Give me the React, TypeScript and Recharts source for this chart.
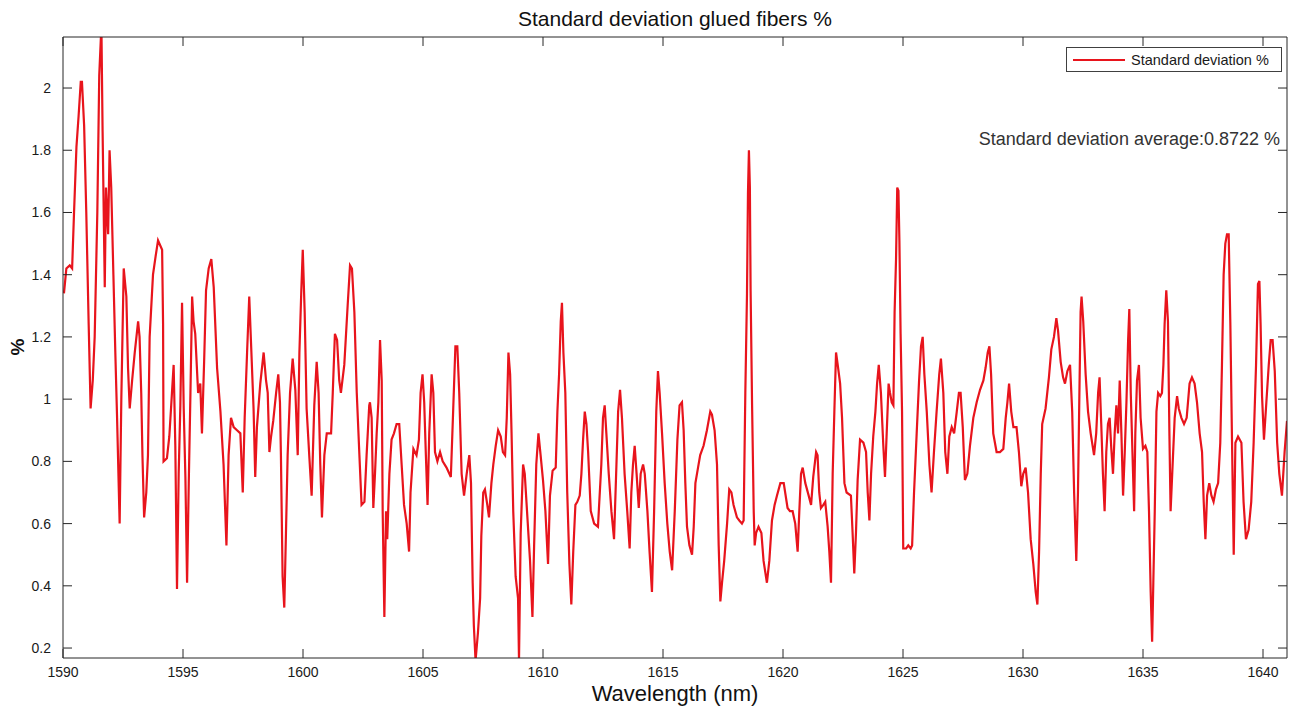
import React from 'react'
import { LineChart, Line, XAxis, YAxis, Legend } from 'recharts'

// wavelength (nm) and standard deviation (%)
const wavelength = [
  1590.04, 1590.14, 1590.28, 1590.38, 1590.46, 1590.56, 1590.65, 1590.74, 1590.79, 1590.88,
  1590.97, 1591.07, 1591.15, 1591.24, 1591.32, 1591.43, 1591.51, 1591.6, 1591.65, 1591.74,
  1591.79, 1591.88, 1591.94, 1592.01, 1592.1, 1592.18, 1592.25, 1592.36, 1592.43, 1592.53,
  1592.64, 1592.71, 1592.78, 1592.88, 1592.99, 1593.13, 1593.19, 1593.26, 1593.31, 1593.38,
  1593.47, 1593.54, 1593.61, 1593.75, 1593.86, 1593.96,
  1594.13, 1594.17, 1594.19, 1594.33, 1594.43, 1594.54, 1594.61, 1594.68, 1594.75, 1594.82,
  1594.89, 1594.96, 1595.03, 1595.1, 1595.17, 1595.24, 1595.31, 1595.38, 1595.44, 1595.51,
  1595.63, 1595.72, 1595.79, 1595.88, 1595.96, 1596.07, 1596.18, 1596.28, 1596.42, 1596.56,
  1596.69, 1596.81, 1596.9, 1597.0, 1597.11, 1597.25, 1597.39, 1597.49, 1597.57, 1597.67,
  1597.76, 1597.85, 1597.94, 1598.01, 1598.08, 1598.22, 1598.36, 1598.46,
  1598.53, 1598.6, 1598.67, 1598.76, 1598.88, 1598.97, 1599.04, 1599.08, 1599.15, 1599.22,
  1599.29, 1599.36, 1599.46, 1599.57, 1599.68, 1599.78, 1599.85, 1599.93, 1599.99, 1600.07,
  1600.15, 1600.26, 1600.36, 1600.47, 1600.57, 1600.65, 1600.72, 1600.79, 1600.89, 1600.99,
  1601.17, 1601.24, 1601.33, 1601.42, 1601.51, 1601.58, 1601.72, 1601.86, 1601.96, 1602.04,
  1602.14, 1602.24, 1602.35, 1602.44, 1602.56, 1602.65, 1602.76,
  1602.79, 1602.86, 1602.93, 1603.0, 1603.07, 1603.14, 1603.21, 1603.28, 1603.32, 1603.39,
  1603.46, 1603.51, 1603.6, 1603.69, 1603.79, 1603.9, 1604.01, 1604.11, 1604.21, 1604.32,
  1604.42, 1604.48, 1604.6, 1604.73, 1604.83, 1604.9, 1604.98, 1605.05, 1605.12, 1605.19,
  1605.26, 1605.36, 1605.43, 1605.5, 1605.6, 1605.71, 1605.82, 1605.98, 1606.16, 1606.26,
  1606.35, 1606.43, 1606.51, 1606.61, 1606.71, 1606.82, 1606.93, 1607.0, 1607.07, 1607.12,
  1607.19, 1607.29, 1607.38, 1607.43, 1607.51, 1607.58, 1607.68, 1607.75, 1607.85, 1607.93,
  1608.03, 1608.13, 1608.24, 1608.33, 1608.42, 1608.49, 1608.56, 1608.63, 1608.69, 1608.76,
  1608.86, 1608.96, 1609.0, 1609.07, 1609.17, 1609.24, 1609.35, 1609.46, 1609.56, 1609.63,
  1609.72, 1609.81, 1609.9, 1610.0, 1610.1, 1610.21, 1610.29, 1610.4, 1610.53, 1610.6,
  1610.67, 1610.74, 1610.79, 1610.85, 1610.93, 1611.01, 1611.1, 1611.18, 1611.26, 1611.35,
  1611.43,
  1611.53, 1611.6, 1611.67, 1611.74, 1611.81, 1611.88, 1611.99, 1612.13, 1612.29, 1612.43,
  1612.5, 1612.57, 1612.64, 1612.74, 1612.85, 1612.96, 1613.06, 1613.13, 1613.21, 1613.29,
  1613.4, 1613.51, 1613.61, 1613.68, 1613.75, 1613.82, 1613.9, 1613.99, 1614.07, 1614.17,
  1614.24, 1614.35, 1614.44, 1614.54, 1614.63, 1614.72, 1614.79, 1614.86, 1614.96, 1615.07,
  1615.18, 1615.28, 1615.38, 1615.49, 1615.6, 1615.69, 1615.79,
  1615.86, 1615.93, 1616.0, 1616.1, 1616.21, 1616.28, 1616.35, 1616.46, 1616.55, 1616.69,
  1616.83, 1616.97, 1617.04, 1617.15, 1617.25, 1617.32, 1617.39, 1617.46, 1617.55, 1617.67,
  1617.76, 1617.85, 1617.94, 1618.08, 1618.18, 1618.29, 1618.36, 1618.43, 1618.5, 1618.54,
  1618.58, 1618.62, 1618.65, 1618.71, 1618.78, 1618.82, 1618.88, 1618.98, 1619.1, 1619.19,
  1619.33, 1619.43, 1619.54, 1619.65, 1619.75, 1619.89, 1620.03,
  1620.19, 1620.29, 1620.4, 1620.51, 1620.61, 1620.68, 1620.75, 1620.82, 1620.93, 1621.07,
  1621.17, 1621.26, 1621.38, 1621.44, 1621.51, 1621.58, 1621.68, 1621.76, 1621.86, 1621.93,
  1622.0, 1622.07, 1622.14, 1622.21, 1622.28, 1622.38, 1622.46, 1622.56, 1622.65, 1622.83,
  1622.9, 1622.97, 1623.04, 1623.11, 1623.21, 1623.35, 1623.46, 1623.53, 1623.6, 1623.67,
  1623.76, 1623.85, 1623.92, 1623.99, 1624.08, 1624.18, 1624.25, 1624.32, 1624.4, 1624.46,
  1624.53, 1624.6, 1624.65, 1624.71, 1624.76, 1624.81, 1624.85, 1624.9, 1624.96, 1625.01,
  1625.13, 1625.22, 1625.32, 1625.38, 1625.46, 1625.57, 1625.67, 1625.75, 1625.82, 1625.89,
  1625.99, 1626.1, 1626.19, 1626.29, 1626.4, 1626.51, 1626.58, 1626.68, 1626.76, 1626.85,
  1626.93, 1627.03, 1627.13, 1627.24, 1627.33, 1627.4, 1627.49, 1627.58, 1627.68, 1627.79,
  1627.93, 1628.07, 1628.21, 1628.35, 1628.44, 1628.53, 1628.6, 1628.67, 1628.76,
  1628.9, 1629.04, 1629.18, 1629.28, 1629.35, 1629.42, 1629.51, 1629.6, 1629.73, 1629.83,
  1629.93, 1630.01, 1630.11, 1630.21, 1630.32, 1630.43, 1630.53, 1630.6, 1630.67, 1630.74,
  1630.8, 1630.94, 1631.08, 1631.18, 1631.29, 1631.39, 1631.46, 1631.57, 1631.67, 1631.75,
  1631.85, 1631.96, 1632.05, 1632.13, 1632.22, 1632.29, 1632.35, 1632.4, 1632.44, 1632.51,
  1632.61, 1632.71, 1632.82, 1632.96, 1633.05, 1633.13,
  1633.19, 1633.26, 1633.33, 1633.4, 1633.47, 1633.54, 1633.61, 1633.68, 1633.75, 1633.82,
  1633.89, 1633.96, 1634.03, 1634.1, 1634.17, 1634.24, 1634.31, 1634.38, 1634.43, 1634.49,
  1634.56, 1634.63, 1634.68, 1634.75, 1634.83, 1634.9, 1635.0, 1635.1, 1635.18, 1635.25,
  1635.32, 1635.38, 1635.43, 1635.49, 1635.56, 1635.63, 1635.72, 1635.79, 1635.85, 1635.9,
  1635.97, 1636.04, 1636.1, 1636.15, 1636.24, 1636.32, 1636.42, 1636.49, 1636.6, 1636.71,
  1636.82, 1636.94, 1637.04, 1637.15, 1637.25, 1637.36, 1637.46,
  1637.53, 1637.6, 1637.67, 1637.76, 1637.85, 1637.94, 1638.04, 1638.13, 1638.22, 1638.29,
  1638.36, 1638.43, 1638.5, 1638.57, 1638.64, 1638.71, 1638.78, 1638.85, 1638.96, 1639.1,
  1639.19, 1639.29, 1639.4, 1639.51, 1639.61, 1639.71, 1639.79, 1639.85, 1639.9, 1639.96,
  1640.04, 1640.14, 1640.24, 1640.32, 1640.4, 1640.49, 1640.59, 1640.68, 1640.79, 1640.9,
  1641.0,
]

const stdDev = [
  1.34, 1.42, 1.43, 1.42, 1.6, 1.81, 1.91, 2.02, 2.02, 1.88,
  1.6, 1.24, 0.97, 1.06, 1.2, 1.6, 2.04, 2.2, 1.86, 1.36,
  1.68, 1.53, 1.8, 1.68, 1.4, 1.15, 0.95, 0.6, 1.0, 1.42,
  1.33, 1.1, 0.97, 1.06, 1.15, 1.25, 1.2, 1.02, 0.82, 0.62,
  0.7, 0.82, 1.2, 1.4, 1.46, 1.51,
  1.48, 1.24, 0.8, 0.81, 0.88, 1.02, 1.11, 0.85, 0.39, 0.76,
  0.98, 1.31, 0.97, 0.75, 0.41, 0.73, 1.02, 1.33, 1.25, 1.21,
  1.02, 1.05, 0.89, 1.12, 1.35, 1.42, 1.45, 1.36, 1.1, 0.96,
  0.79, 0.53, 0.82, 0.94, 0.91, 0.9, 0.89, 0.7, 0.94, 1.15,
  1.33, 1.15, 0.97, 0.75, 0.91, 1.05, 1.15, 1.06,
  1.02, 0.83, 0.88, 0.93, 1.02, 1.08, 0.99, 0.82, 0.43, 0.33,
  0.57, 0.82, 1.02, 1.13, 1.03, 0.82, 1.15, 1.35, 1.48, 1.28,
  0.97, 0.82, 0.69, 0.98, 1.12, 1.02, 0.79, 0.62, 0.82, 0.89,
  0.89, 1.02, 1.21, 1.19, 1.06, 1.02, 1.11, 1.3, 1.43, 1.42,
  1.28, 1.02, 0.82, 0.66, 0.67, 0.82, 0.98,
  0.99, 0.94, 0.65, 0.76, 0.89, 0.99, 1.19, 1.06, 0.64, 0.3,
  0.64, 0.55, 0.76, 0.87, 0.89, 0.92, 0.92, 0.79, 0.66, 0.6,
  0.51, 0.7, 0.84, 0.82, 0.87, 1.02, 1.08, 0.99, 0.82, 0.66,
  0.89, 1.08, 1.02, 0.83, 0.8, 0.83, 0.8, 0.78, 0.75, 0.97,
  1.17, 1.17, 1.02, 0.76, 0.69, 0.76, 0.82, 0.73, 0.41, 0.27,
  0.16, 0.25, 0.36, 0.56, 0.7, 0.71, 0.66, 0.62, 0.73, 0.79,
  0.85, 0.9, 0.88, 0.83, 0.82, 0.94, 1.15, 1.08, 0.89, 0.64,
  0.43, 0.36, 0.16, 0.57, 0.79, 0.76, 0.62, 0.48, 0.3, 0.53,
  0.79, 0.89, 0.82, 0.74, 0.64, 0.47, 0.69, 0.77, 0.78, 0.96,
  1.08, 1.25, 1.31, 1.15, 1.02, 0.7, 0.47, 0.34, 0.51, 0.66,
  0.67,
  0.69, 0.76, 0.87, 0.96, 0.92, 0.83, 0.64, 0.6, 0.59, 0.79,
  0.94, 0.98, 0.89, 0.76, 0.64, 0.55, 0.79, 0.96, 1.03, 0.94,
  0.76, 0.64, 0.52, 0.7, 0.79, 0.85, 0.76, 0.65, 0.76, 0.79,
  0.76, 0.64, 0.51, 0.38, 0.64, 0.96, 1.09, 1.02, 0.89, 0.73,
  0.6, 0.51, 0.45, 0.64, 0.87, 0.98, 0.99,
  0.9, 0.73, 0.59, 0.53, 0.5, 0.59, 0.73, 0.78, 0.82, 0.85,
  0.9, 0.96, 0.95, 0.9, 0.79, 0.53, 0.35, 0.41, 0.48, 0.6,
  0.71, 0.7, 0.66, 0.62, 0.61, 0.6, 0.61, 1.02, 1.34, 1.66,
  1.8, 1.68, 1.35, 0.99, 0.64, 0.53, 0.57, 0.59, 0.57, 0.48,
  0.41, 0.48, 0.61, 0.66, 0.69, 0.73, 0.73,
  0.65, 0.64, 0.64, 0.6, 0.51, 0.64, 0.76, 0.78, 0.73, 0.69,
  0.66, 0.75, 0.83, 0.82, 0.7, 0.65, 0.66, 0.67, 0.59, 0.51,
  0.41, 0.76, 0.96, 1.15, 1.11, 1.05, 0.94, 0.73, 0.7, 0.69,
  0.57, 0.44, 0.57, 0.74, 0.87, 0.86, 0.83, 0.7, 0.61, 0.76,
  0.88, 0.96, 1.05, 1.11, 1.02, 0.85, 0.75, 0.89, 1.05, 1.02,
  0.99, 0.98, 1.28, 1.45, 1.68, 1.67, 1.51, 1.21, 0.96, 0.52,
  0.52, 0.53, 0.52, 0.53, 0.7, 0.89, 1.06, 1.17, 1.2, 1.08,
  0.96, 0.79, 0.7, 0.83, 0.96, 1.08, 1.13, 1.02, 0.83, 0.76,
  0.88, 0.91, 0.89, 0.96, 1.02, 1.02, 0.91, 0.74, 0.76, 0.85,
  0.94, 0.99, 1.03, 1.06, 1.1, 1.15, 1.17, 1.08, 0.89,
  0.83, 0.83, 0.84, 0.94, 0.99, 1.05, 0.96, 0.91, 0.91, 0.83,
  0.72, 0.76, 0.78, 0.7, 0.55, 0.47, 0.38, 0.34, 0.51, 0.76,
  0.92, 0.97, 1.07, 1.16, 1.2, 1.26, 1.22, 1.12, 1.07, 1.05,
  1.09, 1.11, 0.96, 0.7, 0.48, 0.7, 1.02, 1.28, 1.33, 1.25,
  1.08, 0.96, 0.89, 0.82, 0.89, 1.02,
  1.07, 0.92, 0.76, 0.64, 0.83, 0.92, 0.94, 0.84, 0.76, 0.89,
  0.98, 0.89, 1.06, 0.89, 0.69, 0.83, 0.99, 1.19, 1.29, 1.02,
  0.83, 0.64, 0.89, 1.06, 1.11, 0.94, 0.84, 0.85, 0.83, 0.64,
  0.38, 0.22, 0.41, 0.64, 0.96, 1.02, 1.01, 1.02, 1.11, 1.24,
  1.35, 1.25, 0.89, 0.64, 0.8, 0.94, 1.01, 0.97, 0.94, 0.92,
  0.94, 1.05, 1.07, 1.05, 0.99, 0.89, 0.83,
  0.67, 0.55, 0.69, 0.73, 0.69, 0.67, 0.71, 0.73, 0.86, 1.11,
  1.4, 1.5, 1.53, 1.53, 1.24, 0.86, 0.5, 0.86, 0.88, 0.86,
  0.67, 0.55, 0.58, 0.67, 0.86, 1.11, 1.37, 1.38, 1.24, 1.01,
  0.87, 0.99, 1.11, 1.19, 1.19, 1.09, 0.86, 0.76, 0.69, 0.83,
  0.93,
]

const xTicks = [1590, 1595, 1600, 1605, 1610, 1615, 1620, 1625, 1630, 1635, 1640]
const yTicks = [0.2, 0.4, 0.6, 0.8, 1, 1.2, 1.4, 1.6, 1.8, 2]

const chartData = wavelength.map((w, i) => ({ wavelength: w, std: stdDev[i] }))

const FONT = '"Liberation Sans", Arial, Helvetica, sans-serif'
const AXIS = '#262626'
const RED = '#e8141c'

function LegendBox() {
  return (
    <div
      style={{
        width: 216,
        height: 25,
        border: '1px solid #404040',
        background: '#fff',
        display: 'flex',
        alignItems: 'center',
        fontFamily: FONT,
        fontSize: 14.5,
        color: '#1a1a1a',
        boxSizing: 'border-box',
      }}
    >
      <div style={{ width: 52, height: 2, background: RED, marginLeft: 6, marginRight: 6 }} />
      <span>Standard deviation %</span>
    </div>
  )
}

const noLabel = () => <g />

export default function App() {
  return (
    <div style={{ position: 'absolute', left: 0, top: 0, width: 1296, height: 713, background: '#fff', fontFamily: FONT }}>
      <LineChart
        width={1296}
        height={713}
        data={chartData}
        margin={{ top: 36, right: 8, bottom: 25, left: 8 }}
      >
        <XAxis
          dataKey="wavelength"
          type="number"
          domain={[1590, 1641]}
          ticks={xTicks}
          allowDataOverflow
          height={30}
          tickSize={-9}
          tickMargin={18}
          stroke={AXIS}
          tick={{ fill: '#1a1a1a', fontSize: 14, fontFamily: FONT }}
        />
        <XAxis
          xAxisId="top"
          dataKey="wavelength"
          type="number"
          orientation="top"
          domain={[1590, 1641]}
          ticks={xTicks}
          allowDataOverflow
          height={1}
          tickSize={-9}
          stroke={AXIS}
          tick={noLabel}
        />
        <YAxis
          type="number"
          domain={[0.168, 2.164]}
          ticks={yTicks}
          allowDataOverflow
          width={55}
          tickSize={-9}
          tickMargin={21}
          stroke={AXIS}
          tick={{ fill: '#1a1a1a', fontSize: 14, fontFamily: FONT }}
        />
        <YAxis
          yAxisId="right"
          type="number"
          orientation="right"
          domain={[0.168, 2.164]}
          ticks={yTicks}
          allowDataOverflow
          width={1}
          tickSize={-9}
          stroke={AXIS}
          tick={noLabel}
        />
        <Legend
          layout="horizontal"
          verticalAlign="middle"
          align="center"
          content={<LegendBox />}
          wrapperStyle={{ position: 'absolute', left: 1066, top: 47, width: 216 }}
        />
        <Line
          type="linear"
          dataKey="std"
          name="Standard deviation %"
          stroke={RED}
          strokeWidth={2.2}
          dot={false}
          isAnimationActive={false}
        />
        <Line
          xAxisId="top"
          yAxisId="right"
          type="linear"
          dataKey="std"
          stroke="none"
          strokeWidth={0}
          dot={false}
          activeDot={false}
          legendType="none"
          isAnimationActive={false}
        />
      </LineChart>
      <div style={{ position: 'absolute', left: 0, width: 1350, top: 7, textAlign: 'center', fontSize: 21, color: '#111' }}>
        Standard deviation glued fibers %
      </div>
      <div style={{ position: 'absolute', left: 0, width: 1350, top: 681, textAlign: 'center', fontSize: 22, color: '#111' }}>
        Wavelength (nm)
      </div>
      <div
        style={{
          position: 'absolute',
          left: 18,
          top: 347,
          transform: 'translate(-50%, -50%) rotate(-90deg)',
          fontSize: 19,
          fontWeight: 'bold',
          color: '#111',
        }}
      >
        %
      </div>
      <div style={{ position: 'absolute', right: 16, top: 129, fontSize: 18, color: '#333' }}>
        Standard deviation average:0.8722 %
      </div>
    </div>
  )
}
